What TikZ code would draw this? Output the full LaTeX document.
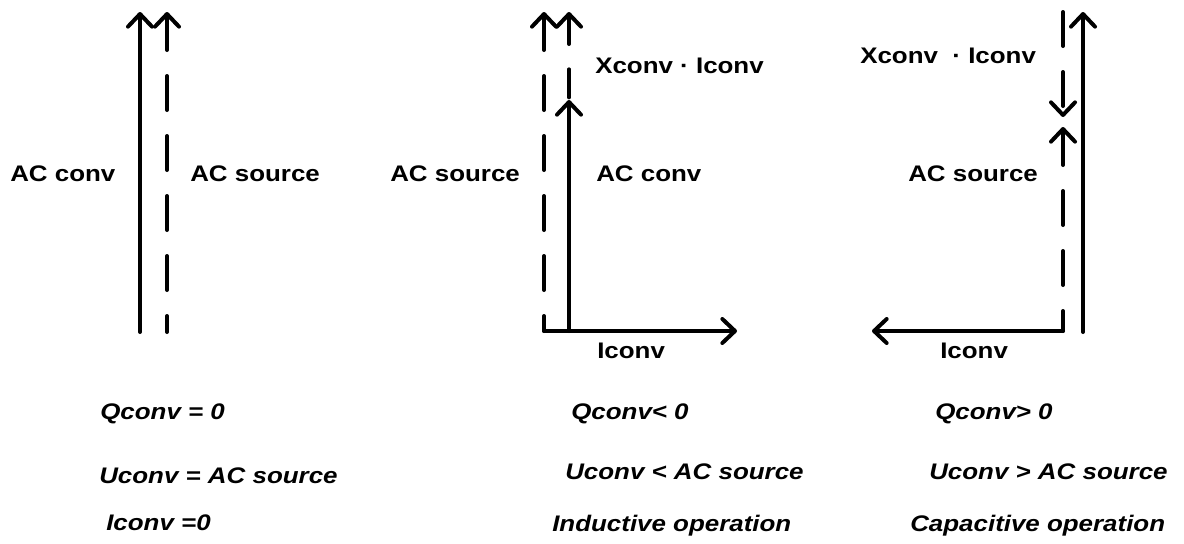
\documentclass[tikz,border=0pt]{standalone}
\usepackage{fontspec}
\setmainfont[FakeStretch=1.15]{Liberation Sans}
\usetikzlibrary{arrows.meta}
\begin{document}
\begin{tikzpicture}[x=0.75pt,y=-0.75pt,
  >={Straight Barb[length=9.5pt,width=18pt,round]},
  vec/.style={line width=3pt, line cap=round, line join=round},
  dvec/.style={vec, dash pattern=on 25.5pt off 19.5pt},
  dvecs/.style={vec, dash pattern=on 21pt off 19pt},
  lab/.style={anchor=base west, inner sep=0pt, font=\fontsize{16.9}{20}\selectfont\bfseries},
  cond/.style={lab, font=\fontsize{16.9}{20}\selectfont\bfseries\itshape}]
\useasboundingbox (0,0) rectangle (1184,543);

% ---- zero reactive power: both phasors equal ----
\coordinate (c1b) at (140,332);
\coordinate (c1t) at (140,12);
\coordinate (s1b) at (167,332);
\coordinate (s1t) at (167,12);
\draw[vec,->] (c1b) -- (c1t);
\draw[dvec,<-] (s1t) -- (s1b);
\node[lab] (c1lab) at (10,181) {AC conv};
\node[lab] (s1lab) at (190,181) {AC source};

% ---- inductive operation ----
\coordinate (s2t) at (544,12);
\coordinate (o2) at (544,331);
\coordinate (c2b) at (569,331);
\coordinate (c2t) at (569,100);
\coordinate (x2t) at (569,12);
\coordinate (i2) at (737,331);
\draw[dvec,<-] (s2t) -- (o2);
\draw[vec,->] (c2b) -- (c2t);
\draw[dvecs,<-] (x2t) -- (c2t);
\draw[vec,->] (o2) -- (i2);
\node[lab] (s2lab) at (390,181) {AC source};
\node[lab] (c2lab) at (596,181) {AC conv};
\node[lab] (x2lab) at (595,73) {Xconv · Iconv};
\node[lab] (i2lab) at (597,358) {Iconv};

% ---- capacitive operation ----
\coordinate (c3b) at (1083,332);
\coordinate (c3t) at (1083,12);
\coordinate (x3t) at (1063,12);
\coordinate (x3b) at (1063,117);
\coordinate (s3t) at (1063,127);
\coordinate (o3) at (1063,331);
\coordinate (i3) at (872,331);
\draw[vec,->] (c3b) -- (c3t);
\draw[dvec,->] (x3t) -- (x3b);
\draw[dvec,<-] (s3t) -- (o3);
\draw[vec,->] (o3) -- (i3);
\node[lab] (x3lab) at (860,63) {Xconv\ \ · Iconv};
\node[lab] (s3lab) at (908,181) {AC source};
\node[lab] (i3lab) at (940,358) {Iconv};

% ---- operating conditions ----
\node[cond] (q1) at (100,419) {Qconv = 0};
\node[cond] (u1) at (99,483) {Uconv = AC source};
\node[cond] (i1) at (106,530) {Iconv =0};
\node[cond] (q2) at (571,419) {Qconv< 0};
\node[cond] (u2) at (565,479) {Uconv < AC source};
\node[cond] (m2) at (552,531) {Inductive operation};
\node[cond] (q3) at (935,419) {Qconv> 0};
\node[cond] (u3) at (929,479) {Uconv > AC source};
\node[cond] (m3) at (910,531) {Capacitive operation};
\end{tikzpicture}
\end{document}
